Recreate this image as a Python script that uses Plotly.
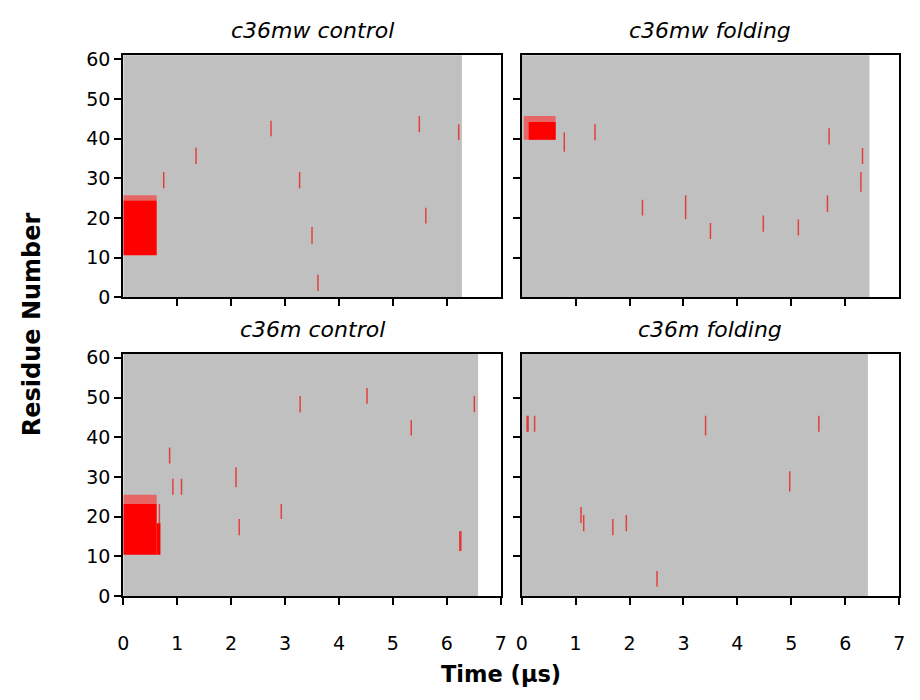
import plotly.graph_objects as go

# ---------------- data ----------------
panel_titles = ["c36mw control", "c36mw folding", "c36m control", "c36m folding"]
sim_end = [6.28, 6.45, 6.58, 6.42]          # length of each trajectory (μs)

# isolated events: time (μs), lowest residue, highest residue
mw_ctrl_t  = [0.75, 1.35, 2.74, 3.27, 3.50, 3.61, 5.49, 5.61, 6.22]
mw_ctrl_lo = [27.5, 33.6, 40.6, 27.5, 13.5, 1.6, 41.6, 18.6, 39.6]
mw_ctrl_hi = [31.6, 37.7, 44.5, 31.6, 17.7, 5.7, 45.6, 22.6, 43.6]

mw_fold_t  = [0.79, 1.36, 2.24, 3.04, 3.50, 4.48, 5.13, 5.67, 5.70, 6.29, 6.32]
mw_fold_lo = [36.7, 39.6, 20.6, 19.7, 14.7, 16.5, 15.6, 21.5, 38.5, 26.6, 33.6]
mw_fold_hi = [41.6, 43.6, 24.6, 25.7, 18.7, 20.6, 19.6, 25.7, 42.6, 31.6, 37.6]

m_ctrl_t  = [0.67, 0.86, 0.92, 1.08, 2.09, 2.15, 2.93, 3.28, 4.52, 5.34, 6.24, 6.26, 6.51]
m_ctrl_lo = [18.3, 33.4, 25.5, 25.5, 27.4, 15.3, 19.4, 46.3, 48.4, 40.4, 11.3, 11.3, 46.3]
m_ctrl_hi = [23.2, 37.4, 29.5, 29.5, 32.4, 19.4, 23.2, 50.4, 52.4, 44.3, 16.3, 16.3, 50.4]

m_fold_t  = [0.10, 0.12, 0.24, 1.10, 1.15, 1.69, 1.94, 2.51, 3.41, 4.97, 5.51]
m_fold_lo = [41.4, 41.4, 41.4, 18.4, 16.3, 15.3, 16.3, 2.4, 40.4, 26.3, 41.4]
m_fold_hi = [45.4, 45.4, 45.4, 22.4, 20.4, 19.4, 20.4, 6.3, 45.4, 31.4, 45.4]

# dense bursts of events: t start, t end, residue low, residue high
mw_ctrl_burst = [(0.00, 0.62, 10.6, 24.4)]
mw_ctrl_edge  = [(0.00, 0.62, 24.4, 25.7)]
mw_fold_burst = [(0.13, 0.63, 39.7, 44.2)]
mw_fold_edge  = [(0.04, 0.63, 39.7, 45.7)]
m_ctrl_burst  = [(0.00, 0.62, 10.4, 23.2), (0.62, 0.69, 10.4, 18.3)]
m_ctrl_edge   = [(0.00, 0.62, 23.2, 25.5)]
m_fold_burst  = []
m_fold_edge   = []

events = [(mw_ctrl_t, mw_ctrl_lo, mw_ctrl_hi), (mw_fold_t, mw_fold_lo, mw_fold_hi),
          (m_ctrl_t, m_ctrl_lo, m_ctrl_hi), (m_fold_t, m_fold_lo, m_fold_hi)]
bursts = [mw_ctrl_burst, mw_fold_burst, m_ctrl_burst, m_fold_burst]
edges = [mw_ctrl_edge, mw_fold_edge, m_ctrl_edge, m_fold_edge]

y_ticks = [0, 10, 20, 30, 40, 50, 60]
x_ticks = [0, 1, 2, 3, 4, 5, 6, 7]

# ---------------- layout geometry ----------------
W, H = 920, 700
xdom = [[118.8 / W, 501.3 / W], [522.5 / W, 905.0 / W]]
ydom = [[1 - 298.0 / H, 1 - 49.5 / H], [1 - 604.5 / H, 1 - 356.0 / H]]
FONT = "DejaVu Sans"

fig = go.Figure()

for i in range(4):
    row, col = divmod(i, 2)
    ax = "" if i == 0 else str(i + 1)
    xa, ya = "x" + ax, "y" + ax

    # trajectory extent (grey)
    fig.add_shape(type="rect", xref=xa, yref=ya + " domain", x0=0, x1=sim_end[i],
                  y0=0, y1=1, fillcolor="#c0c0c0", line_width=0, layer="below")

    # burst edges (lighter) then solid bursts
    for blist, colr in ((edges[i], "rgba(255,40,40,0.6)"), (bursts[i], "#ff0000")):
        for (t0, t1, r0, r1) in blist:
            fig.add_trace(go.Scatter(x=[t0, t1, t1, t0, t0], y=[r0, r0, r1, r1, r0],
                                     mode="lines", fill="toself", fillcolor=colr,
                                     line=dict(width=0), xaxis=xa, yaxis=ya,
                                     hoverinfo="skip", showlegend=False))

    # isolated events
    t, lo, hi = events[i]
    xs, ys = [], []
    for tt, a, b in zip(t, lo, hi):
        xs += [tt, tt, None]
        ys += [a, b, None]
    fig.add_trace(go.Scatter(x=xs, y=ys, mode="lines",
                             line=dict(color="rgba(240,20,20,0.75)", width=1.5),
                             xaxis=xa, yaxis=ya, hoverinfo="skip", showlegend=False))

    common = dict(showgrid=False, zeroline=False, showline=True, linecolor="black",
                  linewidth=2, mirror=True, ticks="outside", ticklen=7, tickwidth=2,
                  tickcolor="black", tickfont=dict(family=FONT, size=19, color="black"))
    fig.update_layout(**{
        ("xaxis" + ax): dict(common, domain=xdom[col], range=[0, 7], anchor=ya,
                             tickvals=(x_ticks if row == 1 else x_ticks[1:-1]),
                             ticktext=[str(v) for v in (x_ticks if row == 1 else x_ticks[1:-1])],
                             showticklabels=(row == 1), ticklabelstandoff=22),
        ("yaxis" + ax): dict(common, domain=ydom[row], range=[0, 61], anchor=xa,
                             tickvals=(y_ticks if col == 0 else y_ticks[1:-1]),
                             showticklabels=(col == 0)),
    })

    fig.add_annotation(text="<i>" + panel_titles[i] + "</i>", xref="paper", yref="paper",
                       x=(xdom[col][0] + xdom[col][1]) / 2, y=ydom[row][1] + 25.5 / H,
                       xanchor="center", yanchor="middle", showarrow=False,
                       font=dict(family=FONT, size=22, color="black"))

fig.add_annotation(text="<b>Residue Number</b>", xref="paper", yref="paper",
                   x=26 / W, y=1 - 326 / H, textangle=-90, xanchor="center", yanchor="middle",
                   showarrow=False, font=dict(family=FONT, size=24, color="black"))
fig.add_annotation(text="<b>Time (μs)</b>", xref="paper", yref="paper",
                   x=502 / W, y=1 - 685 / H, xanchor="center", yanchor="middle",
                   showarrow=False, font=dict(family=FONT, size=22.5, color="black"))

fig.update_layout(width=W, height=H, margin=dict(l=0, r=0, t=0, b=0),
                  paper_bgcolor="white", plot_bgcolor="white", showlegend=False)

fig.write_html("out.html")
